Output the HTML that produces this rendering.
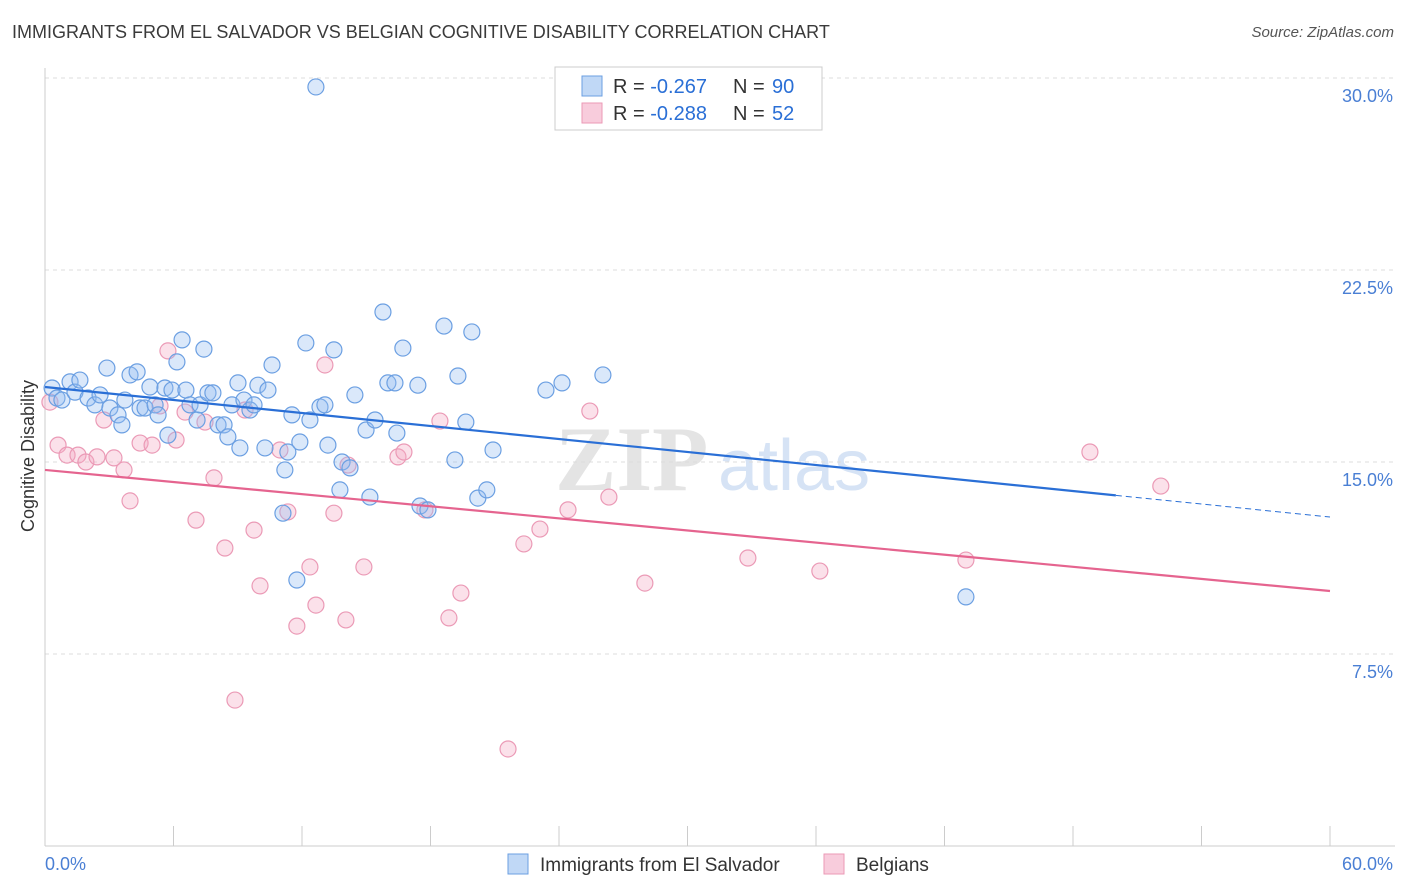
<!DOCTYPE html>
<html><head><meta charset="utf-8">
<style>
body{margin:0;background:#fff;font-family:"Liberation Sans",sans-serif;}
#wrap{position:relative;width:1406px;height:892px;overflow:hidden;}
.title{position:absolute;left:12px;top:22px;font-size:18px;color:#3a3a3a;}
.src{position:absolute;right:12px;top:24px;font-size:15px;color:#555;font-style:italic;}
</style></head><body>
<div id="wrap">
<div class="title">IMMIGRANTS FROM EL SALVADOR VS BELGIAN COGNITIVE DISABILITY CORRELATION CHART</div>
<div class="src">Source: ZipAtlas.com</div>
<svg id="svg" width="1406" height="892" style="position:absolute;left:0;top:0"></svg>
</div>
<script>
const blueX=[12.65,0.33,0.56,0.79,1.17,1.40,1.63,2.01,2.33,2.57,2.89,3.03,3.41,3.59,3.73,3.97,4.30,4.44,4.67,4.90,5.14,5.28,5.60,5.74,5.93,6.16,6.40,6.58,6.77,7.10,7.24,7.42,7.61,7.84,8.08,8.36,8.54,8.73,9.01,9.10,9.29,9.57,9.76,9.94,10.27,10.41,10.60,11.11,11.20,11.34,11.53,11.76,11.90,12.18,12.37,12.84,13.07,13.21,13.49,13.77,13.87,14.24,14.47,14.99,15.17,15.41,15.78,16.01,16.34,16.43,16.71,17.41,17.51,17.88,18.63,19.14,19.28,19.65,19.93,20.21,20.63,20.92,23.39,24.14,26.05,43.0];
const blueY=[29.65,17.89,17.5,17.42,18.13,17.73,18.2,17.5,17.23,17.62,18.67,17.11,16.84,16.45,17.42,18.4,18.52,17.11,17.11,17.93,17.23,16.84,17.89,16.05,17.81,18.91,19.77,17.81,17.23,16.64,17.23,19.41,17.7,17.7,16.45,16.45,15.98,17.23,18.09,15.55,17.42,17.03,17.23,18.0,15.55,17.81,18.79,13.0,14.69,15.39,16.84,10.39,15.78,19.65,16.64,17.15,17.23,15.66,19.38,13.91,15.0,14.77,17.62,16.25,13.63,16.64,20.86,18.09,18.09,16.13,19.45,18.0,13.28,13.13,20.31,15.08,18.36,16.56,20.08,13.59,13.91,15.47,17.81,18.09,18.4,9.73];
const pinkX=[0.23,0.61,1.03,1.54,1.91,2.43,2.75,3.22,3.69,3.97,4.44,5.0,5.37,5.74,6.12,6.54,7.05,7.47,7.89,8.40,8.87,9.34,9.76,10.04,10.97,11.34,11.76,12.37,12.65,13.07,13.49,14.05,14.15,14.89,16.48,16.76,17.74,18.44,18.86,19.42,21.62,22.36,23.11,24.42,25.44,26.33,28.01,32.82,36.18,43.0,48.79,52.1];
const pinkY=[17.34,15.66,15.27,15.27,15.0,15.2,16.64,15.16,14.69,13.48,15.74,15.66,17.19,19.34,15.86,16.95,12.73,16.56,14.38,11.64,5.70,17.03,12.34,10.16,15.47,13.05,8.59,10.9,9.41,18.79,13.0,8.83,14.88,10.9,15.2,15.39,13.13,16.6,8.91,9.88,3.79,11.8,12.38,13.13,16.99,13.63,10.27,11.25,10.74,11.17,15.39,14.06];
const blueTrend=[17.93,12.85]; const blueSolidEnd=50;
const pinkTrend=[14.69,9.96];
const yTicks=[7.5,15,22.5,30];
const yTickLabels=["7.5%","15.0%","22.5%","30.0%"];

const X0=45,X1=1330,Y0=846,YT=78;
const sx=v=>X0+(v/60)*(X1-X0);
const sy=v=>Y0-(v/30)*(Y0-YT);
const svg=document.getElementById('svg');
const NS='http://www.w3.org/2000/svg';
function mk(t,a,p){const e=document.createElementNS(NS,t);for(const k in a)e.setAttribute(k,a[k]);(p||svg).appendChild(e);return e;}

// watermark
let w1=mk('text',{x:555,y:490,'font-size':92,fill:'#e4e4e4','font-family':'Liberation Serif, serif','font-weight':'bold'});w1.textContent='ZIP';


let w2=mk('text',{x:718,y:490,'font-size':72,fill:'#d6e3f5','font-family':'Liberation Sans, sans-serif'});w2.textContent='atlas';



// grid
yTicks.forEach((v,i)=>{
 const g=mk('line',{x1:X0,x2:1395,y1:sy(v),y2:sy(v),stroke:'#dcdcdc','stroke-dasharray':'4,4'});
 
 
 const t=mk('text',{x:1393,y:sy(v)+24,'text-anchor':'end','font-size':18,fill:'#4a7fd4'});t.textContent=yTickLabels[i];
 
 
});
let ax=mk('line',{x1:X0,x2:X0,y1:68,y2:Y0,stroke:'#ccc'});


let bx=mk('line',{x1:X0,x2:1395,y1:Y0,y2:Y0,stroke:'#ccc'});


for(let i=0;i<=10;i++){const t=mk('line',{x1:sx(i*6),x2:sx(i*6),y1:Y0-20,y2:Y0,stroke:'#ccc'});
 
 }
let xl=mk('text',{x:45,y:870,'font-size':18,fill:'#4a7fd4'});xl.textContent='0.0%';


let xr=mk('text',{x:1393,y:870,'font-size':18,fill:'#4a7fd4','text-anchor':'end'});xr.textContent='60.0%';


let yt=mk('text',{x:34,y:456,'font-size':18,fill:'#333','text-anchor':'middle',transform:'rotate(-90 34 456)'});yt.textContent='Cognitive Disability';



// points
for(let i=0;i<pinkX.length;i++){const c=mk('circle',{cx:sx(pinkX[i]),cy:sy(pinkY[i]),r:8,fill:'rgba(244,170,196,0.35)',stroke:'#eb9ab6','stroke-width':1.2});
 
 }
for(let i=0;i<blueX.length;i++){const c=mk('circle',{cx:sx(blueX[i]),cy:sy(blueY[i]),r:8,fill:'rgba(150,190,240,0.35)',stroke:'#6b9fe2','stroke-width':1.2});
 
 }

// trends
const bAt=x=>blueTrend[0]+(blueTrend[1]-blueTrend[0])*x/60;
let bl=mk('line',{x1:sx(0),y1:sy(bAt(0)),x2:sx(blueSolidEnd),y2:sy(bAt(blueSolidEnd)),stroke:'#2a6fd6','stroke-width':2.2});


let bd=mk('line',{x1:sx(blueSolidEnd),y1:sy(bAt(blueSolidEnd)),x2:sx(60),y2:sy(bAt(60)),stroke:'#2a6fd6','stroke-width':1,'stroke-dasharray':'6,4'});


let pl=mk('line',{x1:sx(0),y1:sy(pinkTrend[0]),x2:sx(60),y2:sy(pinkTrend[1]),stroke:'#e5648f','stroke-width':2.2});



// top legend
let lb=mk('rect',{x:555,y:67,width:267,height:63,fill:'#fff',stroke:'#ccc'});


[[0,'rgba(150,190,240,0.6)','#6b9fe2','-0.267','90'],[1,'rgba(244,170,196,0.6)','#eb9ab6','-0.288','52']].forEach(r=>{
 const y=86+r[0]*27;
 const s=mk('rect',{x:582,y:y-10,width:20,height:20,fill:r[1],stroke:r[2]});
 
 
 const t=mk('text',{x:613,y:y+7,'font-size':20,fill:'#333'});
 t.innerHTML='R = <tspan fill="#2a6fd6">'+r[3]+'</tspan><tspan x="733">N = </tspan><tspan fill="#2a6fd6" x="772">'+r[4]+'</tspan>';
 
 
});

// bottom legend
[[508,'rgba(150,190,240,0.6)','#6b9fe2','Immigrants from El Salvador'],[824,'rgba(244,170,196,0.6)','#eb9ab6','Belgians']].forEach(r=>{
 const s=mk('rect',{x:r[0],y:854,width:20,height:20,fill:r[1],stroke:r[2]});
 
 
 const t=mk('text',{x:r[0]+32,y:871,'font-size':19,fill:'#333'});t.textContent=r[3];
 
 
});
</script>
</body></html>
